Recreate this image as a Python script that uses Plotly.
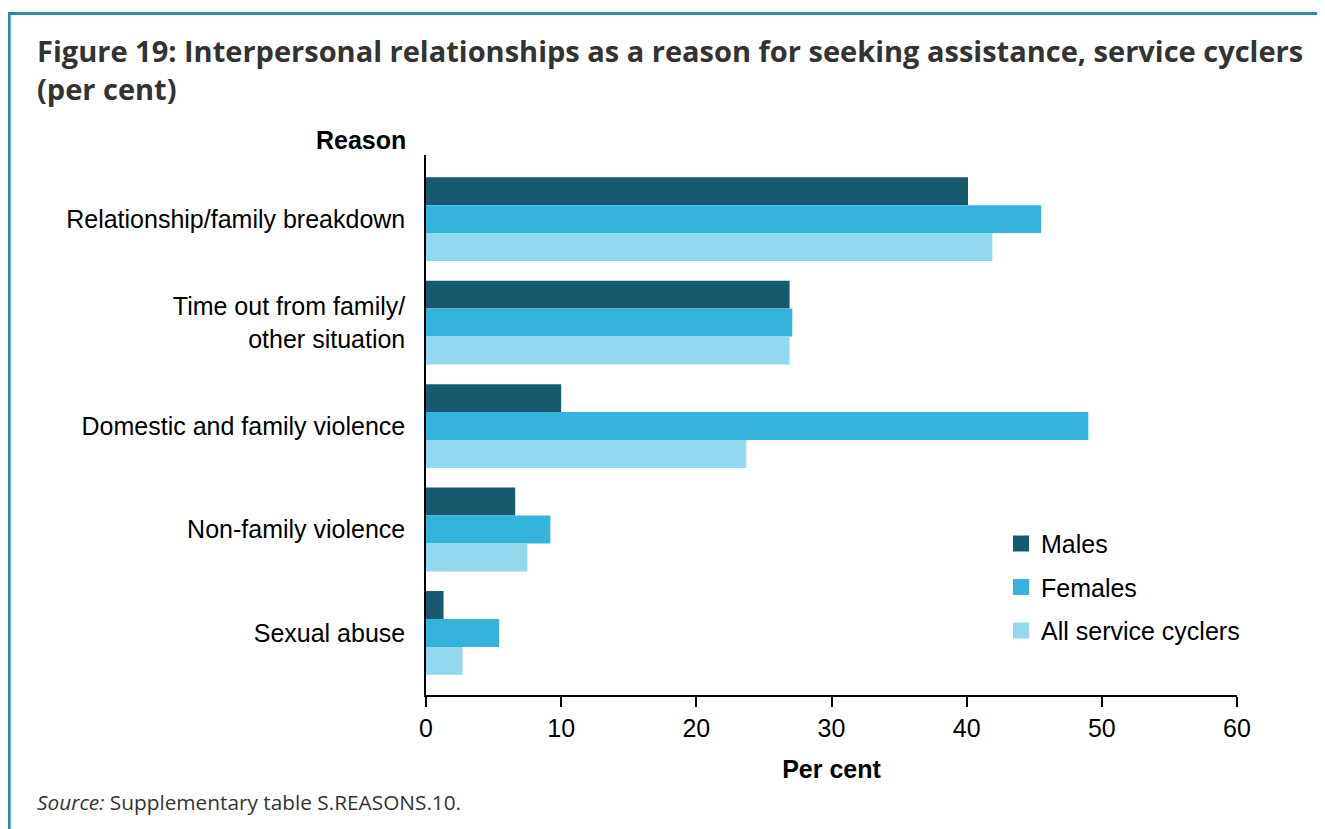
import plotly.graph_objects as go

# ── Data ──────────────────────────────────────────────────────────────────────
reasons = [
    "Relationship/family breakdown",
    "Time out from family/<br>other situation",
    "Domestic and family violence",
    "Non-family violence",
    "Sexual abuse",
]
males = [40.1, 26.9, 10.0, 6.6, 1.3]
females = [45.5, 27.1, 49.0, 9.2, 5.4]
all_cyclers = [41.9, 26.9, 23.7, 7.5, 2.7]
x_ticks = [0, 10, 20, 30, 40, 50, 60]

COLORS = {
    "males": "#175a70",
    "females": "#34b3dc",
    "all": "#92d9f0",
    "border": "#2e8ba3",
    "title": "#333333",
}

SERIES = [
    ("Males", males, COLORS["males"]),
    ("Females", females, COLORS["females"]),
    ("All service cyclers", all_cyclers, COLORS["all"]),
]

fig = go.Figure()
for name, vals, col in SERIES:
    fig.add_trace(go.Bar(
        name=name, x=vals, y=reasons, orientation="h",
        marker=dict(color=col, line=dict(width=0)),
        showlegend=False,
    ))
# legend-only entries so the swatches can be larger squares
for name, vals, col in SERIES:
    fig.add_trace(go.Scatter(
        name=name, x=[None], y=[None], mode="markers",
        marker=dict(symbol="square", size=18, color=col),
        legendgroup=name,
    ))

fig.update_layout(
    width=1317, height=821,
    paper_bgcolor="white", plot_bgcolor="white",
    barmode="group", bargap=0.19, bargroupgap=0,
    margin=dict(l=418, r=88, t=147, b=134),
    font=dict(family="Liberation Sans, Arial, sans-serif", size=25, color="black"),
    showlegend=True,
    legend=dict(
        x=0.709, y=0.3226, xanchor="left", yanchor="top",
        font=dict(size=25), tracegroupgap=8, itemwidth=30,
        bgcolor="rgba(0,0,0,0)",
    ),
    xaxis=dict(
        range=[0, 60], tickvals=x_ticks, showgrid=False, zeroline=False,
        showline=True, linecolor="black", linewidth=1.5,
        ticks="outside", ticklen=10, tickcolor="black", tickwidth=1.5,
        tickfont=dict(size=25),
        title=dict(text="<b>Per cent</b>", font=dict(size=25), standoff=20),
    ),
    yaxis=dict(
        range=[4.6, -0.62], showgrid=False, zeroline=False,
        showline=True, linecolor="black", linewidth=1.5,
        ticks="", ticklabelstandoff=14, tickfont=dict(size=25),
    ),
    shapes=[
        dict(type="rect", xref="paper", yref="paper", x0=-0.514, x1=1.105,
             y0=-0.4, y1=1.262, line=dict(color=COLORS["border"], width=3),
             layer="below"),
    ],
    annotations=[
        dict(text="<b>Figure 19: Interpersonal relationships as a reason for seeking assistance, service cyclers<br>(per cent)</b>",
             xref="paper", yref="paper", x=-0.482, y=1.234, xanchor="left", yanchor="top",
             align="left", showarrow=False,
             font=dict(family="Open Sans, sans-serif", size=29, color=COLORS["title"])),
        dict(text="<b>Reason</b>", xref="paper", yref="paper", x=-0.0222, y=0.999,
             xanchor="right", yanchor="bottom", showarrow=False,
             font=dict(size=25, color="black")),
        dict(text="<i>Source:</i> Supplementary table S.REASONS.10.",
             xref="paper", yref="paper", x=-0.4825, y=-0.1676, xanchor="left", yanchor="top",
             showarrow=False,
             font=dict(family="Open Sans, sans-serif", size=20.8, color=COLORS["title"])),
    ],
)

fig.write_html("out.html")
